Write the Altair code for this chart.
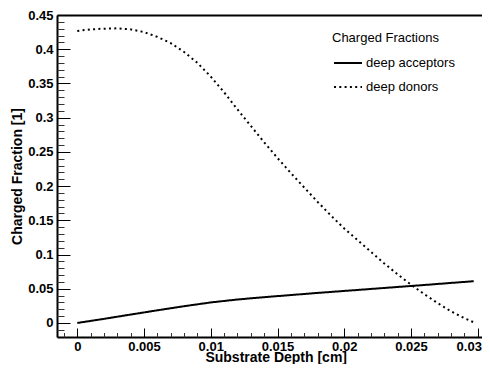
import altair as alt
import pandas as pd

# ---- data ----
series_names = ["deep acceptors", "deep donors"]

acc_x = [0.0, 0.002, 0.004, 0.006, 0.008, 0.010, 0.012, 0.014, 0.016, 0.018,
         0.020, 0.022, 0.024, 0.026, 0.028, 0.0297]
acc_y = [0.0, 0.006, 0.0123, 0.0185, 0.0245, 0.0300, 0.0343, 0.0377, 0.0408, 0.0439,
         0.0468, 0.0497, 0.0526, 0.0555, 0.0585, 0.0610]

don_x = [0.0, 0.001, 0.002, 0.003, 0.004, 0.005, 0.006, 0.007, 0.008, 0.009,
         0.010, 0.011, 0.012, 0.013, 0.014, 0.015, 0.016, 0.017, 0.018, 0.019,
         0.020, 0.021, 0.022, 0.023, 0.024, 0.025, 0.026, 0.027, 0.028, 0.029,
         0.0297]
don_y = [0.4267, 0.429, 0.430, 0.4305, 0.429, 0.425, 0.418, 0.409, 0.396, 0.380,
         0.360, 0.337, 0.312, 0.288, 0.264, 0.241, 0.219, 0.198, 0.177, 0.157,
         0.138, 0.121, 0.104, 0.087, 0.071, 0.056, 0.042, 0.029, 0.017, 0.007,
         0.001]

x_major = [0, 0.005, 0.01, 0.015, 0.02, 0.025, 0.03]
y_major = [0, 0.05, 0.1, 0.15, 0.2, 0.25, 0.3, 0.35, 0.4, 0.45]
x_minor = [round(i * 0.001, 3) for i in range(-1, 31) if i % 5 != 0]
y_minor = [round(i * 0.01, 2) for i in range(-1, 45) if i % 5 != 0]

df = pd.DataFrame({
    "depth": acc_x + don_x,
    "frac": acc_y + don_y,
    "series": [series_names[0]] * len(acc_x) + [series_names[1]] * len(don_x),
})

W = 425
H = 322
FONT = "Liberation Sans"

x_scale = alt.Scale(domain=[-0.00152, 0.03032], nice=False, zero=False)
y_scale = alt.Scale(domain=[-0.0205, 0.45], nice=False, zero=False)

base = alt.Chart(df)

lines = base.mark_line(strokeWidth=2, color="black", clip=True).encode(
    x=alt.X("depth:Q", scale=x_scale,
            axis=alt.Axis(orient="bottom", values=x_major, format="~g",
                          ticks=False, tickSize=0, grid=False,
                          domainColor="black", domainWidth=2,
                          labelFont=FONT, labelFontSize=13, labelFontWeight="bold",
                          labelColor="black", labelPadding=3, labelFlush=False,
                          labelOverlap=False,
                          labelOffset={"condition": {"test": "datum.value >= 0.03",
                                                     "value": -9},
                                       "value": 0},
                          title="Substrate Depth [cm]", titleFont=FONT,
                          titleFontSize=14, titleFontWeight="bold", titleColor="black",
                          titleX=218.7, titleY=24.3, titleBaseline="alphabetic")),
    y=alt.Y("frac:Q", scale=y_scale,
            axis=alt.Axis(orient="left", values=y_major, format="~g",
                          ticks=False, tickSize=0, grid=False,
                          domainColor="black", domainWidth=2,
                          labelFont=FONT, labelFontSize=13, labelFontWeight="bold",
                          labelColor="black", labelPadding=4, labelFlush=False,
                          labelOverlap=False,
                          title="Charged Fraction [1]", titleFont=FONT,
                          titleFontSize=14, titleFontWeight="bold", titleColor="black",
                          titleX=-35.6, titleY=H / 2, titleBaseline="alphabetic")),
    strokeDash=alt.StrokeDash(
        "series:N",
        scale=alt.Scale(domain=series_names, range=[[1, 0], [2, 3.3]]),
        legend=alt.Legend(title="Charged Fractions", orient="none",
                          legendX=275, legendY=17, padding=0,
                          titleFont=FONT, titleFontSize=13, titleFontWeight="normal",
                          titleColor="black", titlePadding=7,
                          labelFont=FONT, labelFontSize=13, labelColor="black",
                          labelFontWeight="normal",
                          labelOffset=7, symbolType="M-1.4,0H1.4", symbolSize=400,
                          symbolStrokeWidth=2, symbolStrokeColor="black",
                          symbolOffset=5, rowPadding=6)),
)

major_ticks = base.mark_line(strokeOpacity=0).encode(
    x=alt.X("depth:Q", scale=x_scale,
            axis=alt.Axis(orient="top", offset=-H, values=x_major, labels=False,
                          domain=False, grid=False, ticks=True, tickSize=9,
                          tickColor="black", tickWidth=1, title=None)),
    y=alt.Y("frac:Q", scale=y_scale,
            axis=alt.Axis(orient="right", offset=-W, values=y_major, labels=False,
                          domain=False, grid=False, ticks=True, tickSize=13,
                          tickColor="black", tickWidth=1, title=None)),
)

minor_ticks = base.mark_line(strokeOpacity=0).encode(
    x=alt.X("depth:Q", scale=x_scale,
            axis=alt.Axis(orient="top", offset=-H, values=x_minor, labels=False,
                          domain=False, grid=False, ticks=True, tickSize=4.5,
                          tickColor="#333333", tickWidth=1, title=None)),
    y=alt.Y("frac:Q", scale=y_scale,
            axis=alt.Axis(orient="right", offset=-W, values=y_minor, labels=False,
                          domain=False, grid=False, ticks=True, tickSize=7,
                          tickColor="#333333", tickWidth=1, title=None)),
)

top_frame = base.mark_line(strokeOpacity=0).encode(
    x=alt.X("depth:Q", scale=x_scale,
            axis=alt.Axis(orient="top", values=x_major, labels=False, ticks=False,
                          grid=False, domain=True, domainColor="black",
                          domainWidth=2, title=None)),
    y=alt.Y("frac:Q", scale=y_scale, axis=None),
)

chart = alt.layer(lines, major_ticks, minor_ticks, top_frame).resolve_axis(
    x="independent", y="independent"
).properties(
    width=W, height=H,
    autosize=alt.AutoSizeParams(type="none"),
    padding={"left": 49, "top": 7, "right": 0, "bottom": 27},
    background="white",
).configure_view(strokeWidth=0)

chart.save("out.html", embed_options={"renderer": "svg", "actions": False})
